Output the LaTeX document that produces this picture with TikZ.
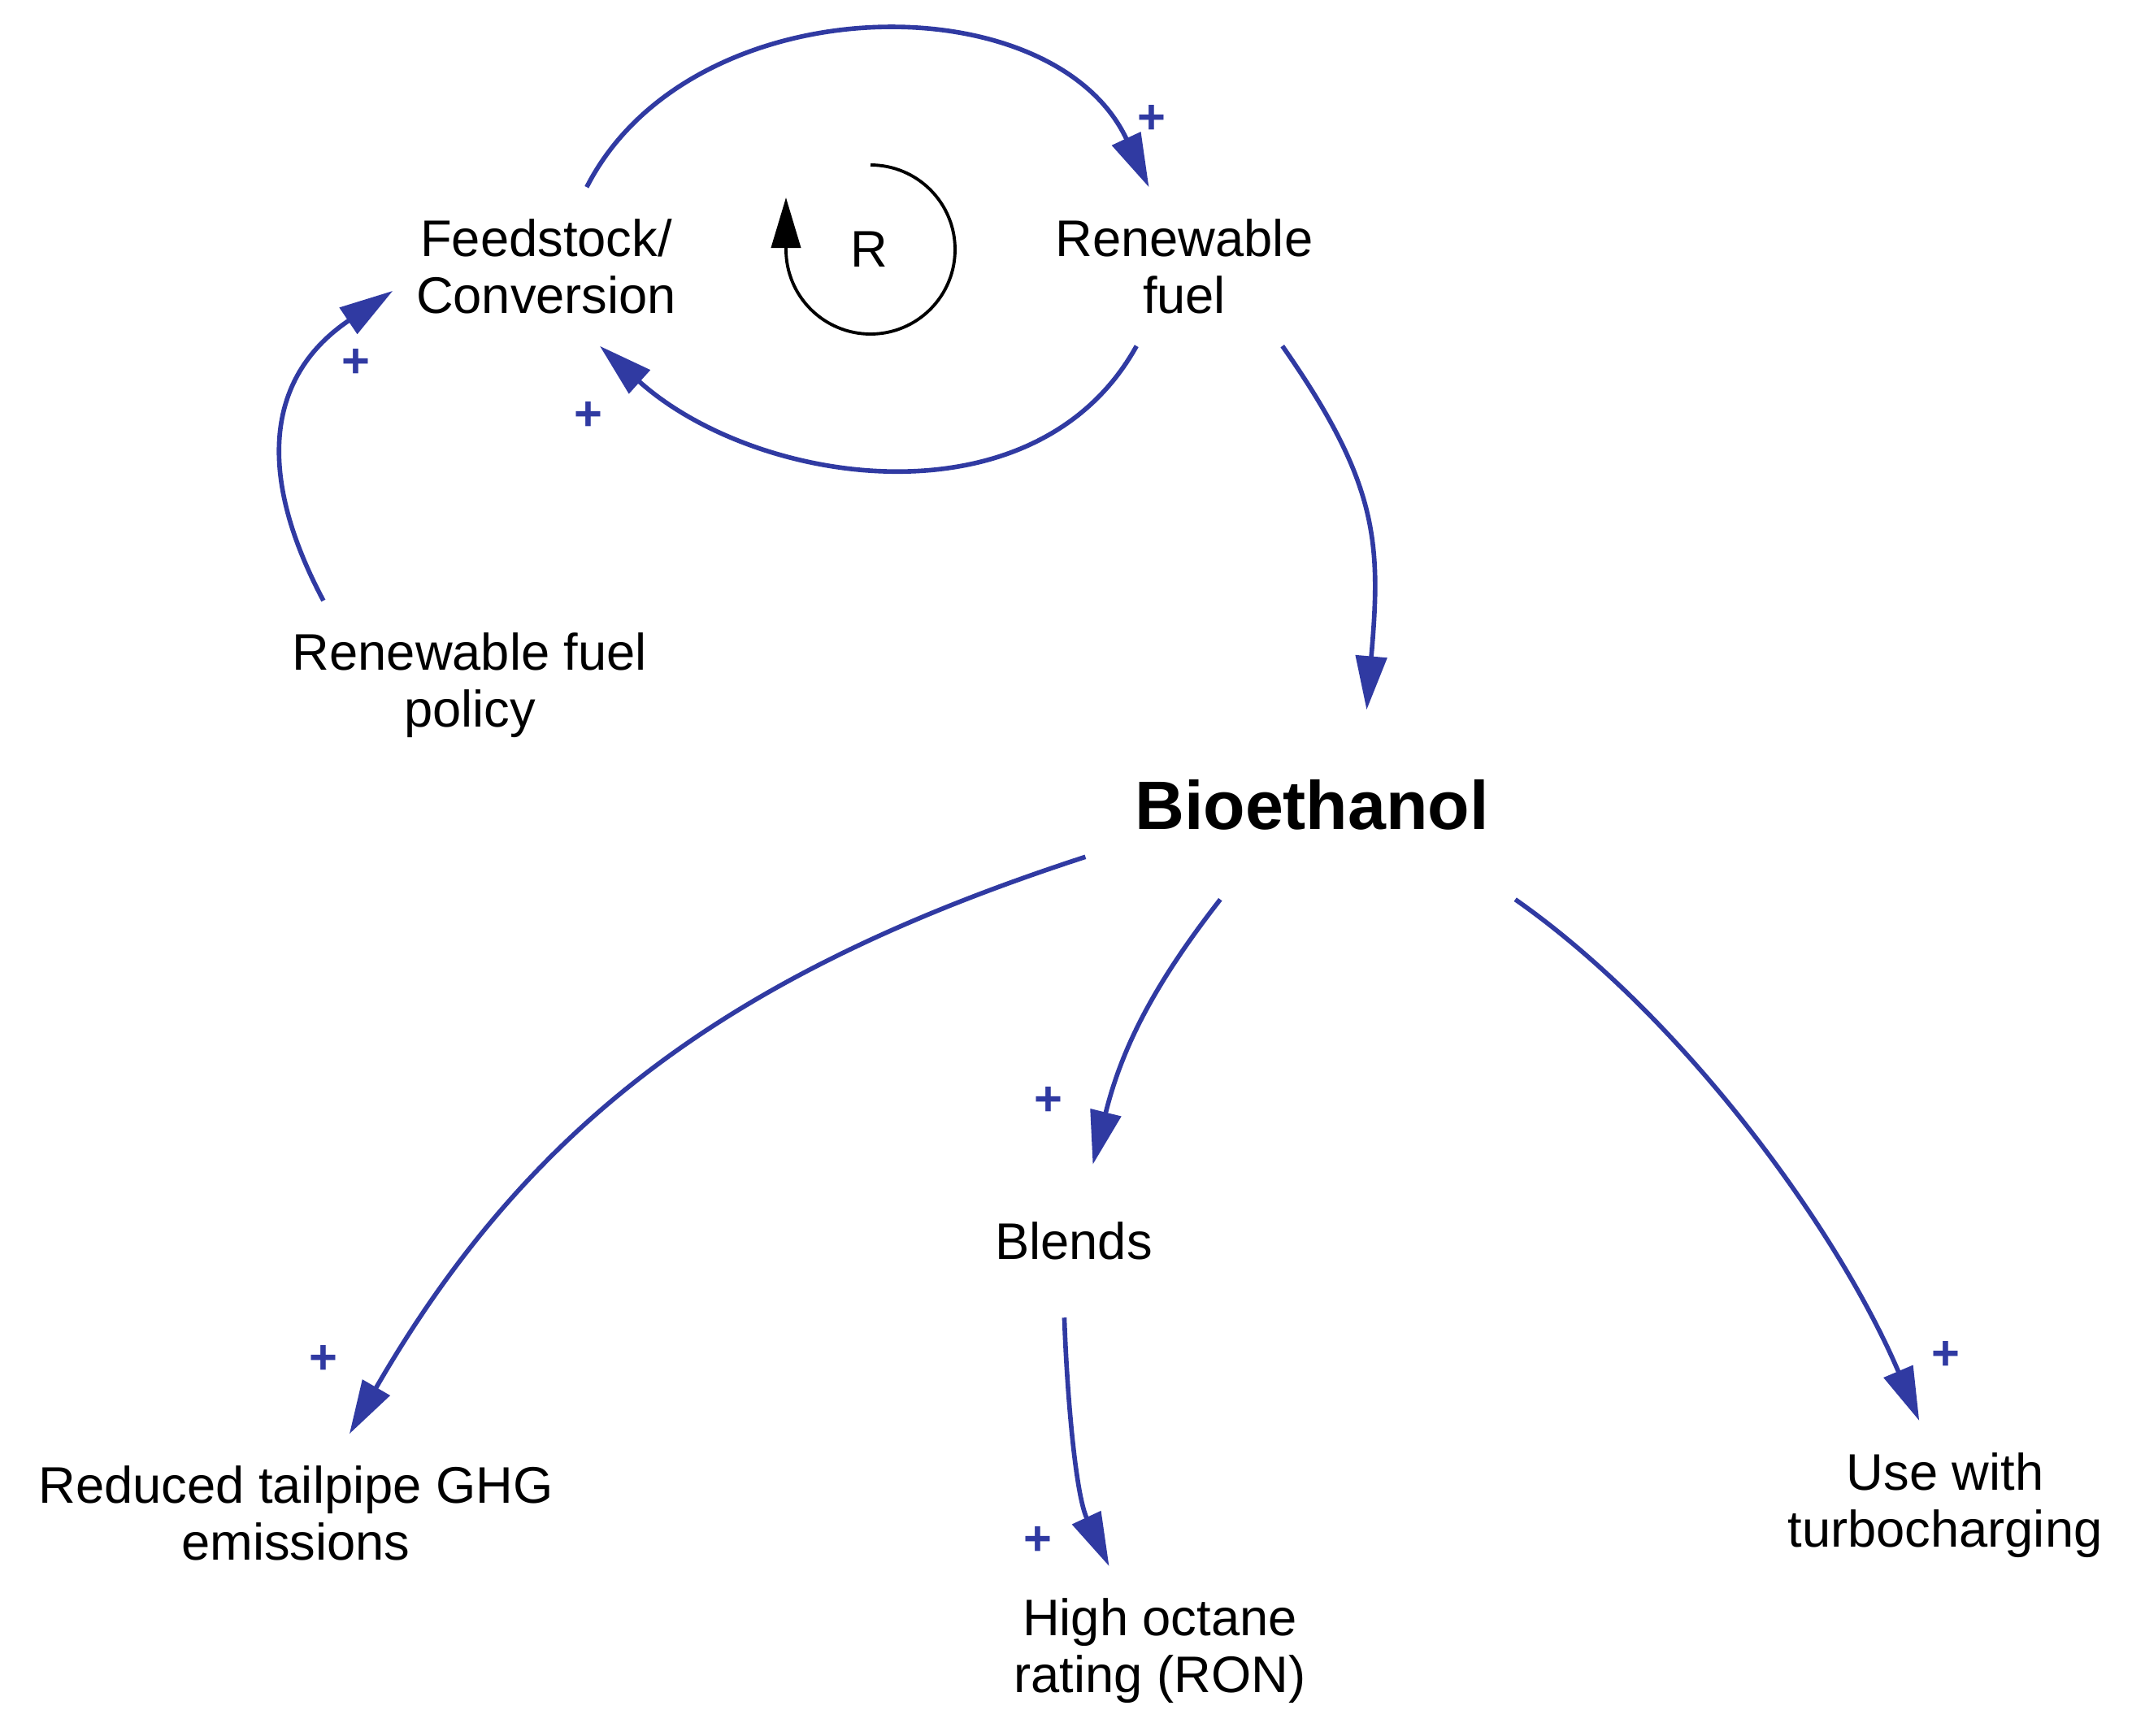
\documentclass[tikz,border=0pt]{standalone}
\usepackage{fontspec}
\setmainfont{Liberation Sans}
\usepackage{tikz}
\usetikzlibrary{arrows.meta}
\definecolor{linkblue}{RGB}{48,58,162}

\begin{document}
\begin{tikzpicture}[
    var/.style={align=center, font=\fontsize{18}{20}\selectfont, inner xsep=8pt, inner ysep=11pt},
    link/.style={draw=linkblue, line width=1.6pt, -{Triangle[length=0.66cm,width=0.38cm]}},
    loopline/.style={draw=black, line width=1.1pt, -{Triangle[length=0.62cm,width=0.36cm]}},
    sign/.style={text=linkblue, font=\fontsize{17}{17}\selectfont\bfseries, inner sep=0pt}
  ]
  \useasboundingbox (0,0) rectangle (26.23,-21.36);

  % variables
  \node[var] (feed) at (6.72,-3.28) {Feedstock/\\Conversion};
  \node[var] (fuel) at (14.57,-3.28) {Renewable\\fuel};
  \node[var] (policy) at (5.78,-8.43) {Renewable fuel\\policy};
  \node[var, font=\fontsize{24}{26}\selectfont\bfseries, inner xsep=0.6cm, inner ysep=0.85cm] (bio) at (16.14,-9.90) {Bioethanol};
  \node[var, inner ysep=20pt] (blends) at (13.21,-15.27) {Blends};
  \node[var] (ghg) at (3.64,-18.62) {Reduced tailpipe GHG\\emissions};
  \node[var] (ron) at (14.27,-20.31) {High octane\\rating (RON)};
  \node[var] (turbo) at (23.93,-18.52) {Use with\\turbocharging};

  % reinforcing loop
  \node[var] (R) at (10.69,-3.07) {R};
  \draw[loopline] (R.center) ++(0.02,1.04) arc[start angle=90, end angle=-180, radius=1.04] -- ++(0,0.64);

  % links
  \draw[link] (feed.63) to[out=63, in=115, looseness=1.04] (fuel.114);
  \draw[link] (fuel.239) to[out=241, in=318] (feed.304);
  \draw[link] (policy.150) to[out=118, in=214, looseness=1.2] (feed.189);
  \draw[link] (fuel.321) to[out=-55, in=85, looseness=1.15] (bio.60);
  \draw[link] (bio.193) to[out=198, in=60] (ghg.56);
  \draw[link] (bio.226) to[out=232, in=76] (blends.76);
  \draw[link] (blends.263) to[out=-88, in=115, looseness=0.8] (ron.121);
  \draw[link] (bio.335) to[out=-35, in=113, looseness=0.8] (turbo.107);

  % polarities
  \node[sign] (s1) at (14.17,-1.47) {+};
  \node[sign] (s2) at (7.24,-5.12) {+};
  \node[sign] (s3) at (4.38,-4.47) {+};
  \node[sign] (s4) at (3.98,-16.73) {+};
  \node[sign] (s5) at (12.90,-13.55) {+};
  \node[sign] (s6) at (12.77,-18.96) {+};
  \node[sign] (s7) at (23.94,-16.68) {+};
\end{tikzpicture}
\end{document}
